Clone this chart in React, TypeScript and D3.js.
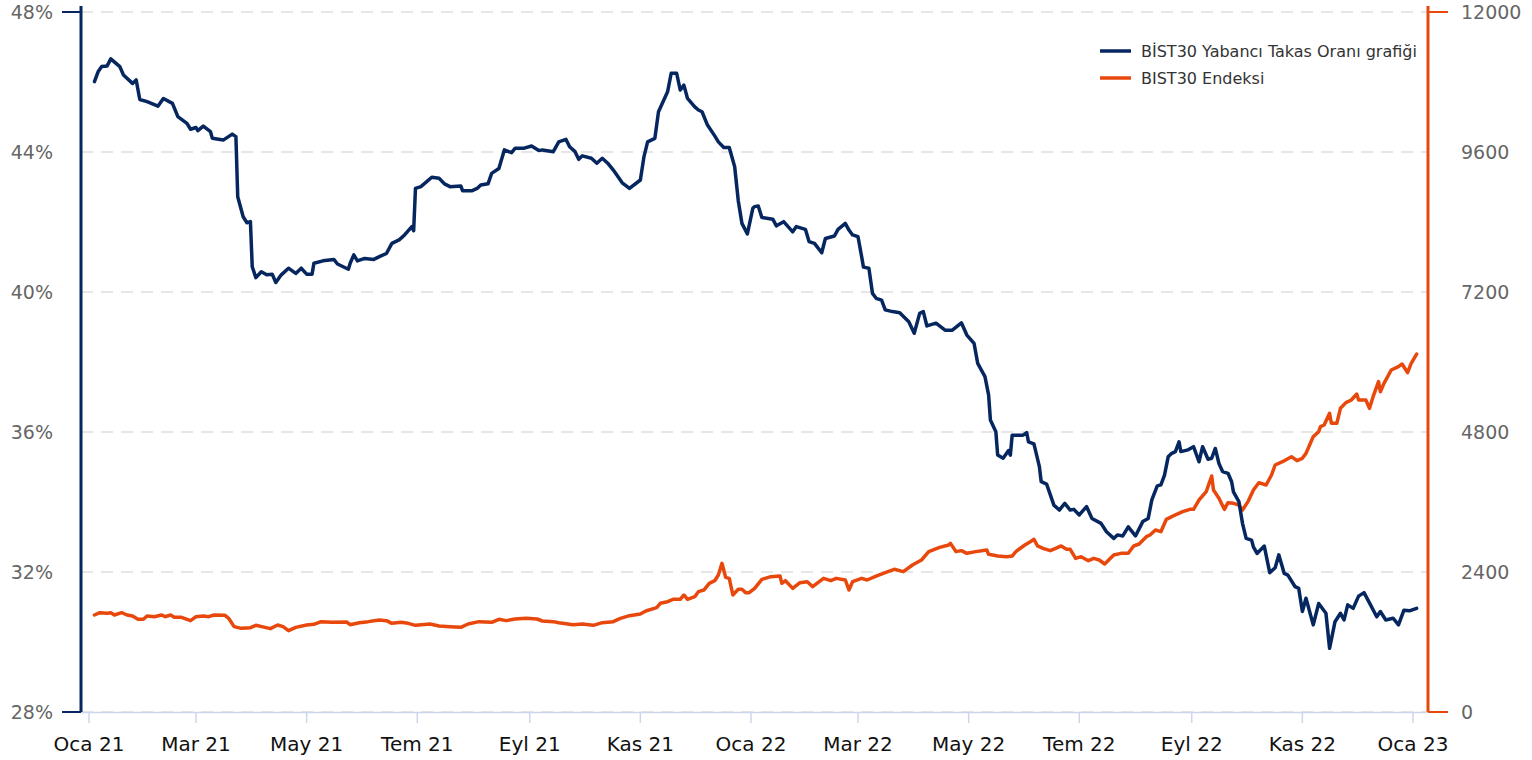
import * as d3 from "d3";

const WIDTH = 1532;
const HEIGHT = 760;
const MARGIN = { top: 12, right: 104, bottom: 48, left: 81 };

const BLUE = "#06265f";
const ORANGE = "#e8480c";

// BİST30 yabancı takas oranı (%)
const takasOrani: [string, number][] = [
  ["2021-01-04", 46.01], ["2021-01-06", 46.29], ["2021-01-08", 46.44], ["2021-01-11", 46.46],
  ["2021-01-13", 46.66], ["2021-01-18", 46.44], ["2021-01-20", 46.2], ["2021-01-25", 45.96],
  ["2021-01-27", 46.06], ["2021-01-29", 45.5], ["2021-02-02", 45.44], ["2021-02-08", 45.31],
  ["2021-02-11", 45.53], ["2021-02-16", 45.39], ["2021-02-19", 45.01], ["2021-02-24", 44.82],
  ["2021-02-26", 44.65], ["2021-03-01", 44.7], ["2021-03-02", 44.61], ["2021-03-05", 44.74],
  ["2021-03-09", 44.58], ["2021-03-10", 44.39], ["2021-03-16", 44.34], ["2021-03-21", 44.51],
  ["2021-03-23", 44.44], ["2021-03-24", 42.72], ["2021-03-27", 42.15], ["2021-03-29", 41.98],
  ["2021-03-31", 42.01], ["2021-04-01", 40.72], ["2021-04-03", 40.41], ["2021-04-06", 40.58],
  ["2021-04-09", 40.49], ["2021-04-12", 40.51], ["2021-04-14", 40.27], ["2021-04-17", 40.49],
  ["2021-04-21", 40.68], ["2021-04-25", 40.53], ["2021-04-28", 40.68], ["2021-05-01", 40.51],
  ["2021-05-04", 40.51], ["2021-05-05", 40.82], ["2021-05-10", 40.89], ["2021-05-16", 40.93],
  ["2021-05-18", 40.8], ["2021-05-24", 40.65], ["2021-05-25", 40.82], ["2021-05-27", 41.06],
  ["2021-05-29", 40.89], ["2021-06-02", 40.96], ["2021-06-07", 40.93], ["2021-06-11", 41.03],
  ["2021-06-14", 41.1], ["2021-06-17", 41.39], ["2021-06-21", 41.49], ["2021-06-24", 41.63],
  ["2021-06-28", 41.87], ["2021-06-29", 41.75], ["2021-06-30", 42.96], ["2021-07-03", 43.01],
  ["2021-07-09", 43.28], ["2021-07-13", 43.25], ["2021-07-16", 43.09], ["2021-07-19", 43.01],
  ["2021-07-25", 43.03], ["2021-07-26", 42.89], ["2021-07-31", 42.89], ["2021-08-03", 42.96],
  ["2021-08-05", 43.06], ["2021-08-09", 43.09], ["2021-08-11", 43.39], ["2021-08-15", 43.53],
  ["2021-08-18", 44.06], ["2021-08-22", 43.98], ["2021-08-24", 44.11], ["2021-08-29", 44.11],
  ["2021-09-02", 44.17], ["2021-09-06", 44.04], ["2021-09-08", 44.06], ["2021-09-14", 44.01],
  ["2021-09-17", 44.29], ["2021-09-21", 44.36], ["2021-09-23", 44.15], ["2021-09-26", 44.01],
  ["2021-09-28", 43.79], ["2021-09-30", 43.89], ["2021-10-05", 43.82], ["2021-10-08", 43.68],
  ["2021-10-11", 43.82], ["2021-10-14", 43.68], ["2021-10-17", 43.49], ["2021-10-22", 43.12],
  ["2021-10-26", 42.96], ["2021-11-01", 43.2], ["2021-11-03", 43.87], ["2021-11-05", 44.29],
  ["2021-11-09", 44.39], ["2021-11-11", 45.15], ["2021-11-16", 45.72], ["2021-11-18", 46.25],
  ["2021-11-21", 46.25], ["2021-11-23", 45.77], ["2021-11-25", 45.91], ["2021-11-27", 45.53],
  ["2021-12-01", 45.29], ["2021-12-03", 45.2], ["2021-12-05", 45.15], ["2021-12-08", 44.77],
  ["2021-12-12", 44.46], ["2021-12-14", 44.29], ["2021-12-17", 44.13], ["2021-12-20", 44.13],
  ["2021-12-23", 43.58], ["2021-12-25", 42.6], ["2021-12-27", 41.96], ["2021-12-30", 41.66],
  ["2022-01-02", 42.39], ["2022-01-03", 42.44], ["2022-01-05", 42.46], ["2022-01-07", 42.13],
  ["2022-01-13", 42.08], ["2022-01-15", 41.89], ["2022-01-19", 42.01], ["2022-01-24", 41.72],
  ["2022-01-26", 41.87], ["2022-01-31", 41.79], ["2022-02-02", 41.44], ["2022-02-05", 41.39],
  ["2022-02-09", 41.12], ["2022-02-11", 41.53], ["2022-02-16", 41.6], ["2022-02-18", 41.79],
  ["2022-02-22", 41.96], ["2022-02-24", 41.77], ["2022-02-26", 41.63], ["2022-03-01", 41.58],
  ["2022-03-03", 41.01], ["2022-03-04", 40.71], ["2022-03-07", 40.68], ["2022-03-09", 39.96],
  ["2022-03-11", 39.82], ["2022-03-14", 39.77], ["2022-03-16", 39.49], ["2022-03-20", 39.44],
  ["2022-03-24", 39.41], ["2022-03-29", 39.15], ["2022-04-01", 38.82], ["2022-04-04", 39.39],
  ["2022-04-06", 39.44], ["2022-04-08", 39.03], ["2022-04-13", 39.11], ["2022-04-18", 38.91],
  ["2022-04-22", 38.91], ["2022-04-27", 39.12], ["2022-04-30", 38.77], ["2022-05-04", 38.53],
  ["2022-05-06", 37.96], ["2022-05-10", 37.58], ["2022-05-12", 37.06], ["2022-05-13", 36.34],
  ["2022-05-16", 36.01], ["2022-05-17", 35.34], ["2022-05-20", 35.25], ["2022-05-23", 35.47],
  ["2022-05-24", 35.34], ["2022-05-25", 35.91], ["2022-05-31", 35.91], ["2022-06-02", 35.98],
  ["2022-06-03", 35.72], ["2022-06-06", 35.66], ["2022-06-09", 35.01], ["2022-06-10", 34.58],
  ["2022-06-13", 34.51], ["2022-06-17", 33.91], ["2022-06-20", 33.77], ["2022-06-23", 33.96],
  ["2022-06-26", 33.77], ["2022-06-28", 33.79], ["2022-07-01", 33.63], ["2022-07-05", 33.87],
  ["2022-07-08", 33.53], ["2022-07-13", 33.39], ["2022-07-16", 33.15], ["2022-07-20", 32.96],
  ["2022-07-22", 33.06], ["2022-07-25", 33.03], ["2022-07-28", 33.29], ["2022-08-01", 33.03],
  ["2022-08-05", 33.44], ["2022-08-08", 33.53], ["2022-08-10", 34.06], ["2022-08-13", 34.46],
  ["2022-08-15", 34.49], ["2022-08-17", 34.77], ["2022-08-19", 35.29], ["2022-08-21", 35.39],
  ["2022-08-23", 35.44], ["2022-08-25", 35.72], ["2022-08-26", 35.44], ["2022-08-30", 35.49],
  ["2022-09-02", 35.58], ["2022-09-05", 35.15], ["2022-09-07", 35.58], ["2022-09-10", 35.22],
  ["2022-09-12", 35.25], ["2022-09-14", 35.53], ["2022-09-16", 35.1], ["2022-09-18", 34.87],
  ["2022-09-21", 34.82], ["2022-09-23", 34.58], ["2022-09-24", 34.29], ["2022-09-27", 34.01],
  ["2022-09-29", 33.39], ["2022-10-01", 32.96], ["2022-10-04", 32.91], ["2022-10-05", 32.72],
  ["2022-10-07", 32.53], ["2022-10-11", 32.74], ["2022-10-14", 31.98], ["2022-10-17", 32.12],
  ["2022-10-19", 32.49], ["2022-10-22", 31.96], ["2022-10-24", 31.91], ["2022-10-28", 31.58],
  ["2022-10-30", 31.53], ["2022-11-01", 30.87], ["2022-11-03", 31.25], ["2022-11-07", 30.49],
  ["2022-11-10", 31.1], ["2022-11-14", 30.82], ["2022-11-16", 29.82], ["2022-11-19", 30.58],
  ["2022-11-22", 30.82], ["2022-11-24", 30.63], ["2022-11-26", 31.06], ["2022-11-29", 30.96],
  ["2022-12-02", 31.31], ["2022-12-05", 31.41], ["2022-12-08", 31.12], ["2022-12-12", 30.72],
  ["2022-12-14", 30.87], ["2022-12-17", 30.63], ["2022-12-21", 30.68], ["2022-12-24", 30.49],
  ["2022-12-27", 30.91], ["2022-12-30", 30.89], ["2023-01-03", 30.96],
];

// BIST30 endeksi
const endeks: [string, number][] = [
  ["2021-01-04", 1663], ["2021-01-07", 1703], ["2021-01-11", 1692], ["2021-01-13", 1703],
  ["2021-01-15", 1663], ["2021-01-19", 1703], ["2021-01-22", 1663], ["2021-01-25", 1646],
  ["2021-01-28", 1589], ["2021-01-31", 1589], ["2021-02-02", 1646], ["2021-02-06", 1634],
  ["2021-02-10", 1663], ["2021-02-12", 1634], ["2021-02-15", 1663], ["2021-02-17", 1623],
  ["2021-02-21", 1623], ["2021-02-26", 1566], ["2021-03-01", 1634], ["2021-03-05", 1646],
  ["2021-03-08", 1634], ["2021-03-11", 1663], ["2021-03-17", 1657], ["2021-03-19", 1606],
  ["2021-03-22", 1463], ["2021-03-26", 1434], ["2021-03-31", 1446], ["2021-04-03", 1486],
  ["2021-04-08", 1451], ["2021-04-11", 1429], ["2021-04-15", 1491], ["2021-04-18", 1463],
  ["2021-04-21", 1394], ["2021-04-25", 1451], ["2021-05-01", 1491], ["2021-05-05", 1503],
  ["2021-05-09", 1549], ["2021-05-15", 1537], ["2021-05-23", 1543], ["2021-05-25", 1497],
  ["2021-05-30", 1531], ["2021-06-04", 1549], ["2021-06-10", 1577], ["2021-06-14", 1566],
  ["2021-06-17", 1520], ["2021-06-22", 1537], ["2021-06-26", 1520], ["2021-06-30", 1486],
  ["2021-07-08", 1509], ["2021-07-13", 1474], ["2021-07-19", 1463], ["2021-07-25", 1451],
  ["2021-07-29", 1509], ["2021-08-04", 1549], ["2021-08-11", 1537], ["2021-08-15", 1589],
  ["2021-08-19", 1566], ["2021-08-24", 1594], ["2021-08-30", 1606], ["2021-09-05", 1594],
  ["2021-09-08", 1560], ["2021-09-14", 1549], ["2021-09-17", 1531], ["2021-09-22", 1509],
  ["2021-09-25", 1497], ["2021-09-30", 1509], ["2021-10-06", 1486], ["2021-10-11", 1531],
  ["2021-10-17", 1549], ["2021-10-21", 1606], ["2021-10-26", 1651], ["2021-11-01", 1680],
  ["2021-11-04", 1731], ["2021-11-10", 1788], ["2021-11-12", 1863], ["2021-11-16", 1891],
  ["2021-11-19", 1931], ["2021-11-23", 1931], ["2021-11-25", 2006], ["2021-11-27", 1931],
  ["2021-12-01", 1977], ["2021-12-03", 2063], ["2021-12-06", 2091], ["2021-12-09", 2206],
  ["2021-12-12", 2251], ["2021-12-14", 2349], ["2021-12-16", 2549], ["2021-12-18", 2309],
  ["2021-12-20", 2291], ["2021-12-22", 2006], ["2021-12-25", 2103], ["2021-12-27", 2103],
  ["2021-12-29", 2046], ["2021-12-31", 2046], ["2022-01-03", 2120], ["2022-01-07", 2274],
  ["2022-01-12", 2320], ["2022-01-17", 2331], ["2022-01-18", 2206], ["2022-01-20", 2251],
  ["2022-01-24", 2120], ["2022-01-28", 2217], ["2022-02-01", 2234], ["2022-02-04", 2149],
  ["2022-02-10", 2291], ["2022-02-14", 2251], ["2022-02-17", 2291], ["2022-02-22", 2263],
  ["2022-02-24", 2091], ["2022-02-26", 2234], ["2022-03-03", 2291], ["2022-03-06", 2263],
  ["2022-03-11", 2331], ["2022-03-16", 2389], ["2022-03-21", 2446], ["2022-03-26", 2406],
  ["2022-03-31", 2520], ["2022-04-05", 2606], ["2022-04-09", 2749], ["2022-04-15", 2823],
  ["2022-04-20", 2863], ["2022-04-21", 2891], ["2022-04-24", 2749], ["2022-04-27", 2766],
  ["2022-04-30", 2720], ["2022-05-05", 2749], ["2022-05-11", 2777], ["2022-05-12", 2703],
  ["2022-05-17", 2674], ["2022-05-22", 2663], ["2022-05-25", 2674], ["2022-05-27", 2749],
  ["2022-06-01", 2863], ["2022-06-04", 2920], ["2022-06-06", 2960], ["2022-06-08", 2846],
  ["2022-06-11", 2806], ["2022-06-15", 2766], ["2022-06-18", 2806], ["2022-06-21", 2846],
  ["2022-06-24", 2789], ["2022-06-26", 2789], ["2022-06-29", 2634], ["2022-07-02", 2663],
  ["2022-07-06", 2594], ["2022-07-09", 2634], ["2022-07-12", 2606], ["2022-07-15", 2537],
  ["2022-07-20", 2691], ["2022-07-24", 2720], ["2022-07-28", 2720], ["2022-07-31", 2846],
  ["2022-08-03", 2880], ["2022-08-07", 3006], ["2022-08-09", 3034], ["2022-08-12", 3120],
  ["2022-08-15", 3091], ["2022-08-18", 3303], ["2022-08-21", 3349], ["2022-08-24", 3394],
  ["2022-08-27", 3434], ["2022-08-31", 3474], ["2022-09-02", 3474], ["2022-09-05", 3634],
  ["2022-09-09", 3777], ["2022-09-12", 4046], ["2022-09-13", 3806], ["2022-09-16", 3663],
  ["2022-09-19", 3474], ["2022-09-21", 3589], ["2022-09-24", 3577], ["2022-09-27", 3549],
  ["2022-09-29", 3463], ["2022-10-02", 3606], ["2022-10-05", 3806], ["2022-10-08", 3931],
  ["2022-10-12", 3891], ["2022-10-15", 4063], ["2022-10-17", 4234], ["2022-10-21", 4291],
  ["2022-10-26", 4377], ["2022-10-29", 4308], ["2022-11-01", 4349], ["2022-11-03", 4434],
  ["2022-11-05", 4577], ["2022-11-07", 4720], ["2022-11-10", 4806], ["2022-11-11", 4891],
  ["2022-11-13", 4920], ["2022-11-16", 5120], ["2022-11-17", 4949], ["2022-11-20", 4949],
  ["2022-11-22", 5206], ["2022-11-25", 5303], ["2022-11-28", 5349], ["2022-12-01", 5451],
  ["2022-12-02", 5349], ["2022-12-06", 5349], ["2022-12-08", 5206], ["2022-12-10", 5406],
  ["2022-12-13", 5663], ["2022-12-14", 5491], ["2022-12-16", 5634], ["2022-12-20", 5863],
  ["2022-12-24", 5920], ["2022-12-26", 5966], ["2022-12-29", 5817], ["2022-12-31", 5977],
  ["2023-01-03", 6137],
];

const leftTicks = [28, 32, 36, 40, 44, 48];
const rightTicks = [0, 2400, 4800, 7200, 9600, 12000];
const seriesNames = ["BİST30 Yabancı Takas Oranı grafiği", "BIST30 Endeksi"];

const trLocale = d3.timeFormatLocale({
  dateTime: "%d %B %Y %A %X",
  date: "%d.%m.%Y",
  time: "%H:%M:%S",
  periods: ["", ""],
  days: ["Pazar", "Pazartesi", "Salı", "Çarşamba", "Perşembe", "Cuma", "Cumartesi"],
  shortDays: ["Paz", "Pzt", "Sal", "Çar", "Per", "Cum", "Cmt"],
  months: ["Ocak", "Şubat", "Mart", "Nisan", "Mayıs", "Haziran", "Temmuz", "Ağustos", "Eylül", "Ekim", "Kasım", "Aralık"],
  shortMonths: ["Oca", "Şub", "Mar", "Nis", "May", "Haz", "Tem", "Ağu", "Eyl", "Eki", "Kas", "Ara"],
});
const formatMonth = trLocale.format("%b %y");
const parseDate = d3.timeParse("%Y-%m-%d");

const FONT = "'DejaVu Sans', Verdana, sans-serif";

export default function App() {
  const x0 = MARGIN.left;
  const x1 = WIDTH - MARGIN.right;
  const y0 = HEIGHT - MARGIN.bottom;
  const y1 = MARGIN.top;

  const start = parseDate("2021-01-01")!;
  const end = parseDate("2023-01-01")!;
  const xScale = d3.scaleTime().domain([start, end]).range([89, 1413]);
  const yLeft = d3.scaleLinear().domain([28, 48]).range([y0, y1]);
  const yRight = d3.scaleLinear().domain([0, 12000]).range([y0, y1]);

  const monthTicks = d3.timeMonth.every(2)!.range(start, d3.timeDay.offset(end, 1));

  const blueLine = d3
    .line<[string, number]>()
    .x((d) => xScale(parseDate(d[0])!))
    .y((d) => yLeft(d[1]));
  const orangeLine = d3
    .line<[string, number]>()
    .x((d) => xScale(parseDate(d[0])!))
    .y((d) => yRight(d[1]));

  const legendColors = [BLUE, ORANGE];

  return (
    <svg
      width={WIDTH}
      height={HEIGHT}
      style={{ position: "absolute", left: 0, top: 0, background: "#fff" }}
      fontFamily={FONT}
    >
      {/* grid */}
      {leftTicks.map((t) => (
        <line
          key={"g" + t}
          x1={x0}
          x2={x1}
          y1={yLeft(t)}
          y2={yLeft(t)}
          stroke="#e6e6e6"
          strokeWidth={2}
          strokeDasharray="12,8"
        />
      ))}

      {/* x axis */}
      <line x1={x0} x2={x1} y1={y0 + 0.5} y2={y0 + 0.5} stroke="#ccd6eb" strokeWidth={1.5} />
      {monthTicks.map((d) => (
        <g key={d.toISOString()} transform={`translate(${xScale(d)},0)`}>
          <line y1={y0} y2={y0 + 11} stroke="#ccd6eb" strokeWidth={1.5} />
          <text y={y0 + 39} textAnchor="middle" fontSize={20} fill="#111">
            {formatMonth(d)}
          </text>
        </g>
      ))}

      {/* left axis */}
      <line x1={x0} x2={x0} y1={y1 - 6} y2={y0} stroke={BLUE} strokeWidth={3} />
      <line x1={62} x2={x0} y1={y0} y2={y0} stroke={BLUE} strokeWidth={2} />
      <line x1={62} x2={x0} y1={y1} y2={y1} stroke={BLUE} strokeWidth={2} />
      {leftTicks.map((t) => (
        <text
          key={"l" + t}
          x={53}
          y={yLeft(t)}
          dy="0.35em"
          textAnchor="end"
          fontSize={19}
          fill="#666"
        >
          {t}%
        </text>
      ))}

      {/* right axis */}
      <line x1={x1} x2={x1} y1={y1 - 6} y2={y0} stroke={ORANGE} strokeWidth={3} />
      <line x1={x1} x2={x1 + 20} y1={y1} y2={y1} stroke={ORANGE} strokeWidth={2} />
      <line x1={x1} x2={x1 + 20} y1={y0} y2={y0} stroke={ORANGE} strokeWidth={2} />
      {rightTicks.map((t) => (
        <text
          key={"r" + t}
          x={1461}
          y={yRight(t)}
          dy="0.35em"
          textAnchor="start"
          fontSize={19}
          fill="#666"
        >
          {t}
        </text>
      ))}

      {/* series */}
      <path
        d={orangeLine(endeks) || undefined}
        fill="none"
        stroke={ORANGE}
        strokeWidth={3.5}
        strokeLinejoin="round"
        strokeLinecap="round"
      />
      <path
        d={blueLine(takasOrani) || undefined}
        fill="none"
        stroke={BLUE}
        strokeWidth={3.5}
        strokeLinejoin="round"
        strokeLinecap="round"
      />

      {/* legend */}
      {seriesNames.map((name, i) => (
        <g key={name} transform={`translate(1100,${51 + i * 27})`}>
          <line x1={0} x2={31} y1={0} y2={0} stroke={legendColors[i]} strokeWidth={3.5} />
          <text x={41} dy="0.35em" fontSize={16} fill="#333">
            {name}
          </text>
        </g>
      ))}
    </svg>
  );
}
